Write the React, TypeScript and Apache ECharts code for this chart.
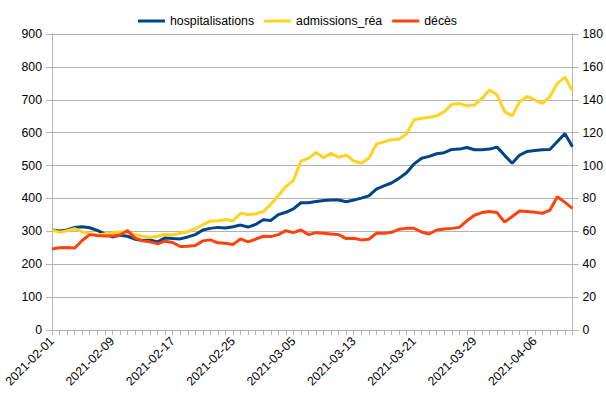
import React, { useEffect, useRef } from "react";
import * as echarts from "echarts";

const dates = [
  "2021-02-01","2021-02-02","2021-02-03","2021-02-04","2021-02-05","2021-02-06","2021-02-07",
  "2021-02-08","2021-02-09","2021-02-10","2021-02-11","2021-02-12","2021-02-13","2021-02-14",
  "2021-02-15","2021-02-16","2021-02-17","2021-02-18","2021-02-19","2021-02-20","2021-02-21",
  "2021-02-22","2021-02-23","2021-02-24","2021-02-25","2021-02-26","2021-02-27","2021-02-28",
  "2021-03-01","2021-03-02","2021-03-03","2021-03-04","2021-03-05","2021-03-06","2021-03-07",
  "2021-03-08","2021-03-09","2021-03-10","2021-03-11","2021-03-12","2021-03-13","2021-03-14",
  "2021-03-15","2021-03-16","2021-03-17","2021-03-18","2021-03-19","2021-03-20","2021-03-21",
  "2021-03-22","2021-03-23","2021-03-24","2021-03-25","2021-03-26","2021-03-27","2021-03-28",
  "2021-03-29","2021-03-30","2021-03-31","2021-04-01","2021-04-02","2021-04-03","2021-04-04",
  "2021-04-05","2021-04-06","2021-04-07","2021-04-08","2021-04-09","2021-04-10","2021-04-11",
];

// left axis
const hospitalisations = [
  304, 301, 304, 312, 314, 311, 303, 292, 283, 288, 285, 276, 272, 274, 268, 280, 278, 277, 283, 290,
  304, 309, 312, 310, 314, 319, 313, 321, 335, 333, 351, 358, 368, 387, 387, 391, 394, 395, 395, 390,
  395, 401, 408, 428, 438, 447, 461, 478, 505, 522, 528, 536, 539, 549, 550, 555, 548, 548, 550, 556,
  531, 507, 532, 543, 546, 548, 549, 573, 597, 557,
];

// right axis
const admissionsRea = [
  60.8, 59.4, 60.4, 61.6, 59.6, 58.6, 57.8, 58.4, 59.0, 59.8, 59.4, 58.0, 57.0, 56.4, 57.0, 58.2, 57.8, 58.8, 59.8, 61.6,
  64.0, 66.2, 66.4, 67.2, 66.4, 71.0, 70.2, 70.6, 72.0, 76.4, 81.6, 87.2, 91.0, 102.8, 104.4, 108.0, 104.8, 107.4, 105.0, 106.4,
  102.8, 101.4, 104.4, 113.0, 114.4, 115.8, 116.0, 119.2, 127.8, 128.8, 129.4, 130.2, 132.8, 137.2, 137.8, 136.4, 136.8, 140.8, 146.0, 143.0,
  132.8, 130.2, 138.8, 142.0, 140.0, 137.8, 141.8, 150.0, 153.8, 145.4,
];

// right axis
const deces = [
  49.2, 50.0, 50.2, 49.8, 54.4, 58.0, 57.4, 57.2, 57.2, 57.8, 60.4, 56.0, 54.2, 53.6, 52.4, 54.0, 53.2, 50.8, 51.0, 51.4,
  54.2, 54.8, 53.0, 52.8, 52.0, 55.4, 53.6, 55.2, 57.0, 56.8, 58.0, 60.4, 59.2, 60.8, 58.0, 59.2, 58.8, 58.4, 58.0, 55.6,
  55.8, 54.8, 55.2, 58.8, 58.8, 59.4, 61.2, 61.8, 61.8, 59.6, 58.4, 60.8, 61.4, 61.8, 62.4, 66.4, 69.8, 71.4, 72.0, 71.4,
  65.6, 69.0, 72.4, 72.0, 71.6, 71.0, 72.8, 81.0, 77.6, 74.0,
];

const FONT = "'Liberation Sans', Arial, sans-serif";
const GRID = "#b3b3b3";

export default function App() {
  const ref = useRef<HTMLDivElement>(null);
  useEffect(() => {
    if (!ref.current) return;
    const chart = echarts.init(ref.current, undefined, { renderer: "svg" });
    const axisLabel = { color: "#000", fontFamily: FONT, fontSize: 12.3 };
    chart.setOption({
      animation: false,
      color: ["#004586", "#ffd320", "#ff420e"],
      textStyle: { fontFamily: FONT },
      legend: {
        left: 133,
        top: 10,
        icon: "rect",
        itemWidth: 27,
        itemHeight: 3,
        itemGap: 10,
        textStyle: { color: "#000", fontFamily: FONT, fontSize: 12.3 },
        data: ["hospitalisations", "admissions_réa", "décès"],
      },
      grid: { left: 52, right: 31.4, top: 34, bottom: 69, containLabel: false },
      xAxis: {
        type: "category",
        data: dates,
        boundaryGap: false,
        axisLine: { lineStyle: { color: GRID, width: 1 } },
        axisTick: { show: true, interval: 0, length: 5, lineStyle: { color: GRID } },
        axisLabel: { ...axisLabel, interval: 7, rotate: 45, margin: 9 },
        splitLine: { show: false },
      },
      yAxis: [
        {
          type: "value",
          min: 0,
          max: 900,
          interval: 100,
          axisLine: { show: true, lineStyle: { color: GRID } },
          axisTick: { show: true, length: 6, lineStyle: { color: GRID } },
          axisLabel: { ...axisLabel, margin: 10 },
          splitLine: { show: true, lineStyle: { color: GRID, width: 1 } },
        },
        {
          type: "value",
          min: 0,
          max: 180,
          interval: 20,
          position: "right",
          axisLine: { show: true, lineStyle: { color: GRID } },
          axisTick: { show: true, length: 6, lineStyle: { color: GRID } },
          axisLabel: { ...axisLabel, margin: 10 },
          splitLine: { show: false },
        },
      ],
      series: [
        {
          name: "hospitalisations",
          type: "line",
          yAxisIndex: 0,
          data: hospitalisations,
          symbol: "none",
          lineStyle: { width: 3 },
        },
        {
          name: "admissions_réa",
          type: "line",
          yAxisIndex: 1,
          data: admissionsRea,
          symbol: "none",
          lineStyle: { width: 3 },
        },
        {
          name: "décès",
          type: "line",
          yAxisIndex: 1,
          data: deces,
          symbol: "none",
          lineStyle: { width: 3 },
        },
      ],
    });
    return () => chart.dispose();
  }, []);
  return (
    <div
      ref={ref}
      style={{ position: "absolute", left: 0, top: 0, width: 606, height: 399, background: "#fff" }}
    />
  );
}
